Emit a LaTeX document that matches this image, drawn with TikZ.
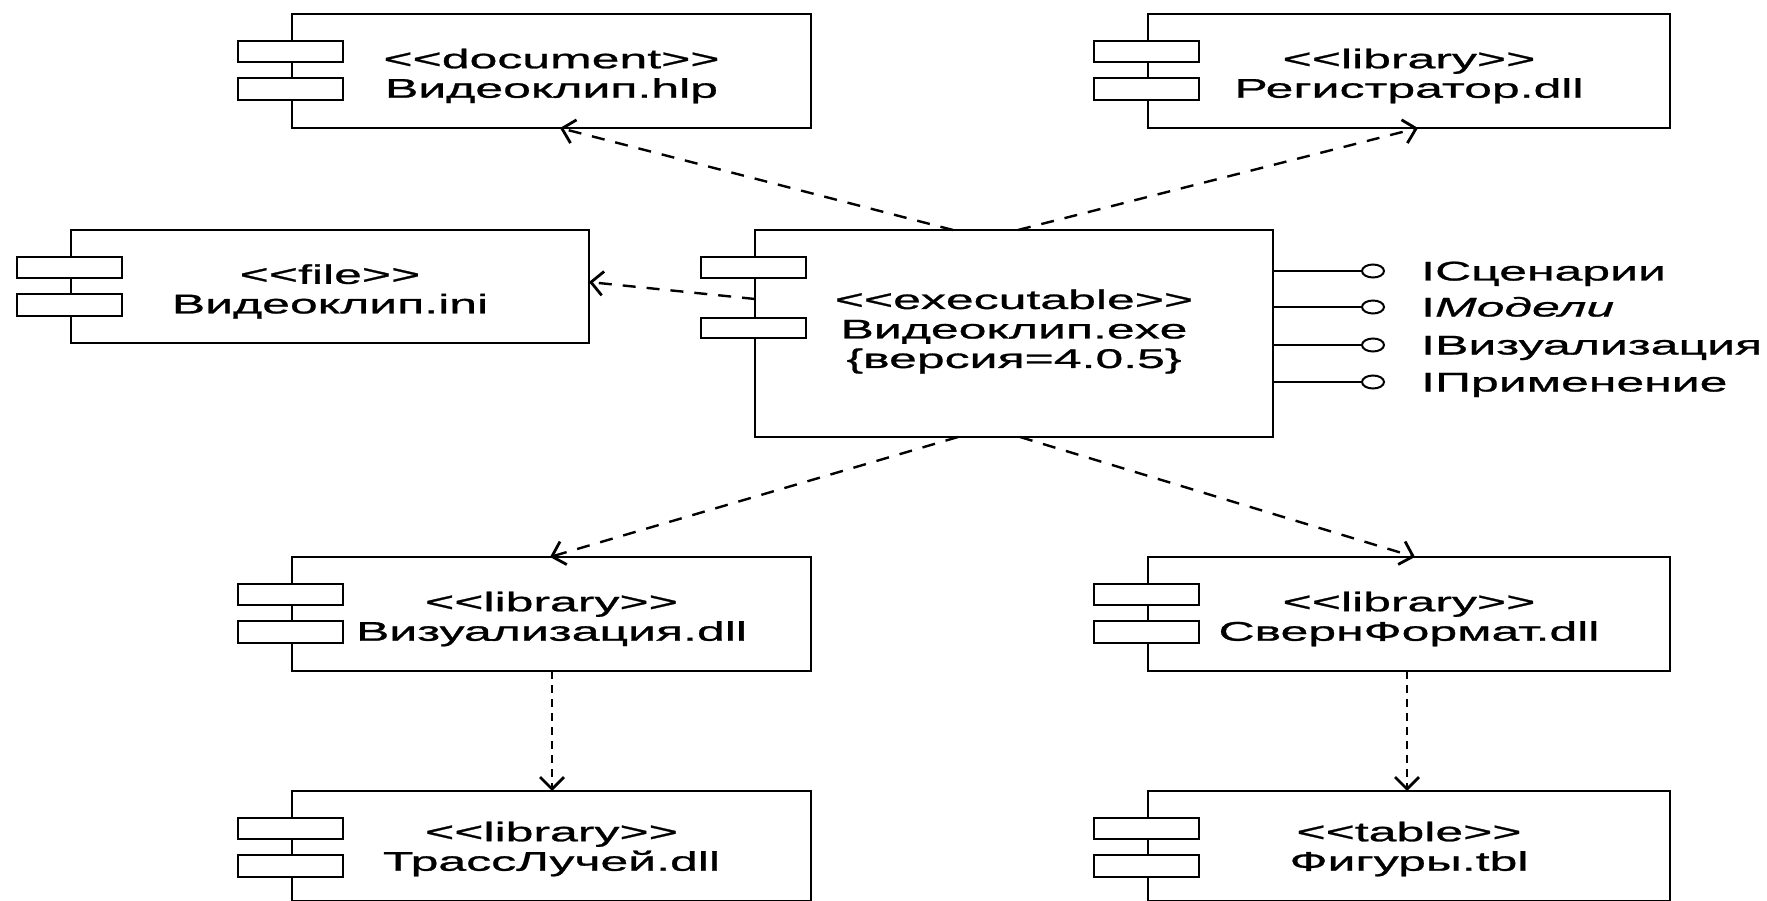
\documentclass[tikz,border=0pt]{standalone}
\usepackage{fontspec}
\setmainfont{Liberation Sans}[FakeStretch=1.85,FakeBold=1]
\usetikzlibrary{arrows.meta,shapes.geometric}
\newcommand\stereo[1]{<\kern0pt<#1>\kern0pt>}
\newcommand\comptabs[3]{%
  \draw[tab] ([xshift=-54pt,yshift=-27pt]#1.north west) rectangle ([xshift=51pt,yshift=-48pt]#1.north west);
  \draw[tab] ([xshift=-54pt,yshift=-#2pt]#1.north west) rectangle ([xshift=51pt,yshift=-#3pt]#1.north west);}
\begin{document}
\begin{tikzpicture}[x=1pt,y=-1pt,
  box/.style={draw, line width=2.6pt, inner sep=0pt, outer sep=0pt, rectangle},
  tab/.style={draw, fill=white, line width=2.6pt},
  txt/.style={align=center, inner sep=0pt, font=\fontsize{27}{29.5}\selectfont},
  dep/.style={line width=2.4pt, dash pattern=on 13pt off 11pt, -{Straight Barb[length=12pt,width=24pt,line width=2.8pt]}},
  vdep/.style={dep, dash pattern=on 8pt off 6pt},
  iface/.style={draw, ellipse, line width=2pt, minimum width=22pt, minimum height=13pt, inner sep=0pt, fill=white},
  ilbl/.style={anchor=base west, inner sep=0pt, font=\fontsize{27}{29.5}\selectfont}]
\fill[white] (0,0) rectangle (1767,901);
\useasboundingbox (0,0) rectangle (1767,901);

% component boxes
\node[box, minimum width=519pt, minimum height=114pt] (doc) at (551.5,71) {};
\node[box, minimum width=522pt, minimum height=114pt] (reg) at (1409,71) {};
\node[box, minimum width=518pt, minimum height=113pt] (file) at (330,286.5) {};
\node[box, minimum width=518pt, minimum height=207pt] (exe) at (1014,333.5) {};
\node[box, minimum width=519pt, minimum height=114pt] (vis) at (551.5,614) {};
\node[box, minimum width=522pt, minimum height=114pt] (svern) at (1409,614) {};
\node[box, minimum width=519pt, minimum height=110pt] (trass) at (551.5,846) {};
\node[box, minimum width=522pt, minimum height=110pt] (fig) at (1409,846) {};

\comptabs{doc}{64}{86}
\comptabs{reg}{64}{86}
\comptabs{file}{64}{86}
\comptabs{exe}{88}{108}
\comptabs{vis}{64}{86}
\comptabs{svern}{64}{86}
\comptabs{trass}{64}{86}
\comptabs{fig}{64}{86}

% texts
\node[txt] (docT) at ([yshift=-5pt]doc.center) {\stereo{document}\\Видеоклип.hlp};
\node[txt] (regT) at ([yshift=-5pt]reg.center) {\stereo{library}\\Регистратор.dll};
\node[txt] (fileT) at ([yshift=-5pt]file.center) {\stereo{file}\\Видеоклип.ini};
\node[txt] (exeT) at ([yshift=2pt]exe.center) {\stereo{executable}\\Видеоклип.exe\\\{версия=4.0.5\}};
\node[txt] (visT) at ([yshift=-5pt]vis.center) {\stereo{library}\\Визуализация.dll};
\node[txt] (svernT) at ([yshift=-5pt]svern.center) {\stereo{library}\\СвернФормат.dll};
\node[txt] (trassT) at ([yshift=-3pt]trass.center) {\stereo{library}\\ТрассЛучей.dll};
\node[txt] (figT) at ([yshift=-3pt]fig.center) {\stereo{table}\\Фигуры.tbl};

% interfaces
\node[iface] (c1) at (1373,271) {};
\node[iface] (c2) at (1373,307) {};
\node[iface] (c3) at (1373,345) {};
\node[iface] (c4) at (1373,382) {};
\foreach \c in {c1,c2,c3,c4} \draw[line width=2pt] (exe.east |- \c) -- (\c.west);
\node[ilbl] (l1) at (1421,280.5) {IСценарии};
\node[ilbl] (l2) at (1421,316.5) {I\textit{Модели}};
\node[ilbl] (l3) at (1421,354.5) {IВизуализация};
\node[ilbl] (l4) at (1421,391.5) {IПрименение};

% dependencies
\draw[dep] ([xshift=-61pt]exe.north) -- ([xshift=8.5pt]doc.south);
\draw[dep] ([xshift=4pt]exe.north) -- ([xshift=9pt]reg.south);
\draw[dep] ([yshift=34.5pt]exe.west) -- ([yshift=4.5pt]file.east);
\draw[dep] ([xshift=-56pt]exe.south) -- ([xshift=-1.5pt]vis.north);
\draw[dep] ([xshift=6pt]exe.south) -- ([xshift=6pt]svern.north);
\draw[vdep] ([xshift=0.5pt]vis.south) -- ([xshift=0.5pt]trass.north);
\draw[vdep] ([xshift=-2pt]svern.south) -- ([xshift=-2pt]fig.north);
\end{tikzpicture}
\end{document}
